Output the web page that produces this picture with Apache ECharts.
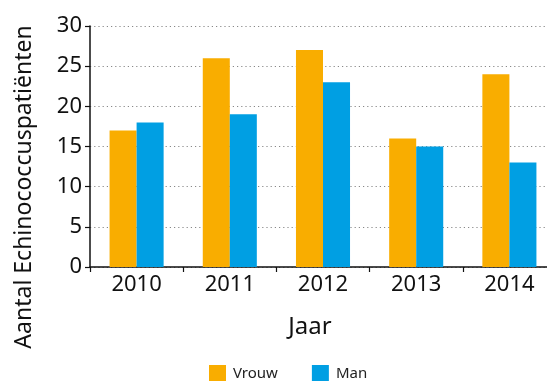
<!DOCTYPE html>
<html><head><meta charset="utf-8">
<script src="https://cdn.jsdelivr.net/npm/echarts@6/dist/echarts.min.js"></script>
<style>html,body{margin:0;padding:0;background:#fff}#c{width:547px;height:381px}</style>
</head><body><div id="c"></div>
<script>
const categories = ['2010', '2011', '2012', '2013', '2014'];
const vrouw = [17, 26, 27, 16, 24];
const man = [18, 19, 23, 15, 13];
const yTicks = [0, 5, 10, 15, 20, 25, 30];
const yTitle = 'Aantal Echinococcuspatiënten';
const xTitle = 'Jaar';
const FONT = 'Noto Sans';
const chart = echarts.init(document.getElementById('c'), null, {renderer: 'canvas'});
chart.setOption({
  animation: false,
  textStyle: {fontFamily: FONT},
  grid: {left: 90, top: 26, height: 241, width: 466, containLabel: false, outerBoundsMode: 'none'},
  legend: {
    left: 209, top: 365, padding: 0, itemWidth: 17, itemHeight: 17, itemGap: 34,
    icon: 'rect',
    textStyle: {fontSize: 15, color: '#222', fontFamily: FONT, padding: [0, 0, 0, 2]},
    data: ['Vrouw', 'Man']
  },
  xAxis: {
    type: 'category', data: categories,
    axisLine: {lineStyle: {color: '#111', width: 1.5}},
    axisTick: {show: true, length: 5, lineStyle: {color: '#111', width: 1.2}},
    axisLabel: {fontSize: 22, color: '#111', margin: 7, fontFamily: FONT}
  },
  yAxis: {
    type: 'value', min: yTicks[0], max: yTicks[yTicks.length - 1], interval: 5,
    axisLine: {show: true, lineStyle: {color: '#111', width: 1.5}},
    axisTick: {show: true, length: 5, lineStyle: {color: '#111', width: 1.2}},
    axisLabel: {fontSize: 22, color: '#111', margin: 8, fontFamily: FONT},
    splitLine: {show: true, lineStyle: {color: '#888', width: 1.2, type: [1.2, 3]}}
  },
  graphic: [
    {type: 'text', x: 24, y: 187, rotation: Math.PI / 2,
     style: {text: yTitle, fontSize: 23, fill: '#111', fontFamily: FONT, align: 'center', verticalAlign: 'middle'}},
    {type: 'text', x: 310, y: 327,
     style: {text: xTitle, fontSize: 24, fill: '#111', fontFamily: FONT, align: 'center', verticalAlign: 'middle'}}
  ],
  series: [
    {name: 'Vrouw', type: 'bar', data: vrouw, barGap: '0%', barCategoryGap: '42%', itemStyle: {color: '#F9AD00'}},
    {name: 'Man', type: 'bar', data: man, itemStyle: {color: '#009FE3'}}
  ]
});
</script></body></html>
